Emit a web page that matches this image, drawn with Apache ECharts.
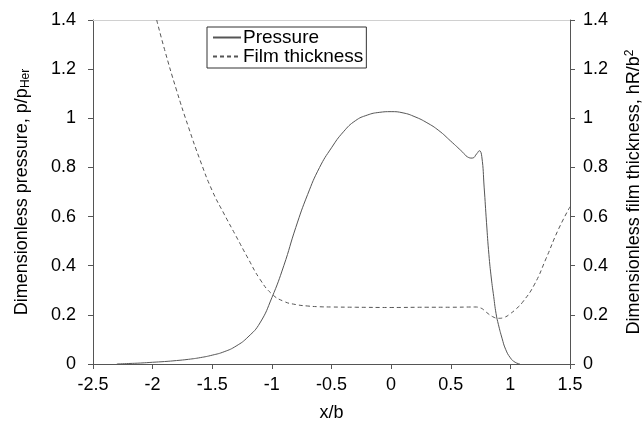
<!DOCTYPE html>
<html>
<head>
<meta charset="utf-8">
<script src="https://cdn.jsdelivr.net/npm/echarts@6/dist/echarts.min.js"></script>
<style>
  html, body { margin: 0; padding: 0; background: #fff; }
  #chart { width: 643px; height: 425px; }
</style>
</head>
<body>
<div id="chart"></div>
<script>
// pressure curve p/pHer vs x/b
var pressureX = [-2.3, -2.2, -2.1, -2.0, -1.9, -1.8, -1.7, -1.6, -1.5, -1.4, -1.3, -1.2, -1.1, -1.0, -0.9, -0.8, -0.7, -0.6, -0.5, -0.4, -0.3, -0.2, -0.1, 0.0, 0.1, 0.2, 0.3, 0.4, 0.5, 0.6, 0.64, 0.68, 0.72, 0.74, 0.76, 0.78, 0.8, 0.82, 0.84, 0.86, 0.88, 0.9, 0.93, 0.96, 1.0, 1.04, 1.08];
var pressureY = [0.0, 0.002, 0.004, 0.007, 0.01, 0.014, 0.019, 0.026, 0.036, 0.05, 0.073, 0.11, 0.167, 0.27, 0.40, 0.555, 0.69, 0.80, 0.88, 0.945, 0.99, 1.013, 1.024, 1.027, 1.022, 1.006, 0.982, 0.95, 0.907, 0.862, 0.843, 0.838, 0.857, 0.868, 0.845, 0.72, 0.575, 0.445, 0.35, 0.275, 0.205, 0.16, 0.105, 0.06, 0.025, 0.007, 0.0];

// film thickness hR/b^2 vs x/b
var filmX = [-1.966, -1.9, -1.8, -1.7, -1.6, -1.5, -1.4, -1.3, -1.2, -1.1, -1.0, -0.9, -0.8, -0.7, -0.6, -0.5, -0.3, 0.0, 0.3, 0.5, 0.7, 0.75, 0.8, 0.85, 0.9, 0.95, 1.0, 1.05, 1.1, 1.2, 1.3, 1.4, 1.5];
var filmY = [1.4, 1.28, 1.115, 0.965, 0.827, 0.705, 0.61, 0.52, 0.43, 0.345, 0.285, 0.255, 0.242, 0.236, 0.233, 0.232, 0.231, 0.23, 0.231, 0.231, 0.232, 0.228, 0.21, 0.193, 0.186, 0.19, 0.205, 0.225, 0.25, 0.322, 0.43, 0.545, 0.64];

function pairs(xs, ys) {
    var out = [];
    for (var i = 0; i < xs.length; i++) out.push([xs[i], ys[i]]);
    return out;
}

var font = 'Liberation Sans, Arial, sans-serif';
var axisColor = '#555';

var myChart = echarts.init(document.getElementById('chart'));
var option = {
    animation: false,
    textStyle: { fontFamily: font, color: '#000' },
    grid: { left: 93, right: 73, top: 20, bottom: 61, outerBoundsMode: 'none', containLabel: false },
    legend: {
        orient: 'vertical',
        left: 207,
        top: 27,
        padding: [1, 3, 2, 5],
        itemGap: 0,
        itemWidth: 28,
        itemHeight: 12,
        borderColor: '#333',
        borderWidth: 1,
        borderRadius: 0,
        itemStyle: { opacity: 0 },
        textStyle: { fontFamily: font, fontSize: 19, lineHeight: 19, color: '#000', padding: [0, 0, 0, -3] },
        data: ['Pressure', 'Film thickness']
    },
    xAxis: [{
        type: 'value',
        min: -2.5,
        max: 1.5,
        interval: 0.5,
        name: 'x/b',
        nameLocation: 'middle',
        nameGap: 40,
        nameTextStyle: { fontFamily: font, fontSize: 18, color: '#000' },
        axisLine: { onZero: false, lineStyle: { color: axisColor } },
        axisTick: { length: 5, lineStyle: { color: axisColor } },
        axisLabel: { margin: 12, fontSize: 18, color: '#000', fontFamily: font },
        splitLine: { show: false }
    }, {
        type: 'value',
        position: 'top',
        min: -2.5,
        max: 1.5,
        axisLine: { show: true, onZero: false, lineStyle: { color: '#d0d0d0' } },
        axisTick: { show: false },
        axisLabel: { show: false },
        splitLine: { show: false }
    }],
    yAxis: [{
        type: 'value',
        min: 0,
        max: 1.4,
        interval: 0.2,
        position: 'left',
        name: '{n|Dimensionless pressure, p/p}{s|Her}',
        nameLocation: 'middle',
        nameGap: 61,
        nameTextStyle: {
            rich: {
                n: { fontFamily: font, fontSize: 18, color: '#000' },
                s: { fontFamily: font, fontSize: 12, color: '#000', verticalAlign: 'bottom', padding: [8, 0, 0, 0] }
            }
        },
        axisLine: { show: true, onZero: false, lineStyle: { color: axisColor } },
        axisTick: { length: 5, lineStyle: { color: axisColor } },
        axisLabel: { margin: 17, fontSize: 18, color: '#000', fontFamily: font },
        splitLine: { show: false }
    }, {
        type: 'value',
        min: 0,
        max: 1.4,
        interval: 0.2,
        position: 'right',
        name: '{n|Dimensionless film thickness, hR/b}{s|2}',
        nameLocation: 'middle',
        nameGap: 54,
        nameRotate: 90,
        nameTextStyle: {
            rich: {
                n: { fontFamily: font, fontSize: 18, color: '#000' },
                s: { fontFamily: font, fontSize: 12, color: '#000', verticalAlign: 'top', padding: [0, 0, 8, 0] }
            }
        },
        axisLine: { show: true, onZero: false, lineStyle: { color: axisColor } },
        axisTick: { length: 5, lineStyle: { color: axisColor } },
        axisLabel: { margin: 13, fontSize: 18, color: '#000', fontFamily: font },
        splitLine: { show: false }
    }],
    series: [{
        name: 'Pressure',
        type: 'line',
        xAxisIndex: 0,
        yAxisIndex: 0,
        symbol: 'none',
        smooth: 0.5,
        itemStyle: { color: '#555' },
        lineStyle: { color: '#555', width: 1, type: 'solid' },
        data: pairs(pressureX, pressureY)
    }, {
        name: 'Film thickness',
        type: 'line',
        xAxisIndex: 0,
        yAxisIndex: 1,
        symbol: 'none',
        smooth: 0.5,
        itemStyle: { color: '#555' },
        lineStyle: { color: '#555', width: 1, type: [4, 3] },
        data: pairs(filmX, filmY)
    }]
};
myChart.setOption(option);
window.addEventListener("resize", function () { myChart.resize(); });
</script>
</body>
</html>
